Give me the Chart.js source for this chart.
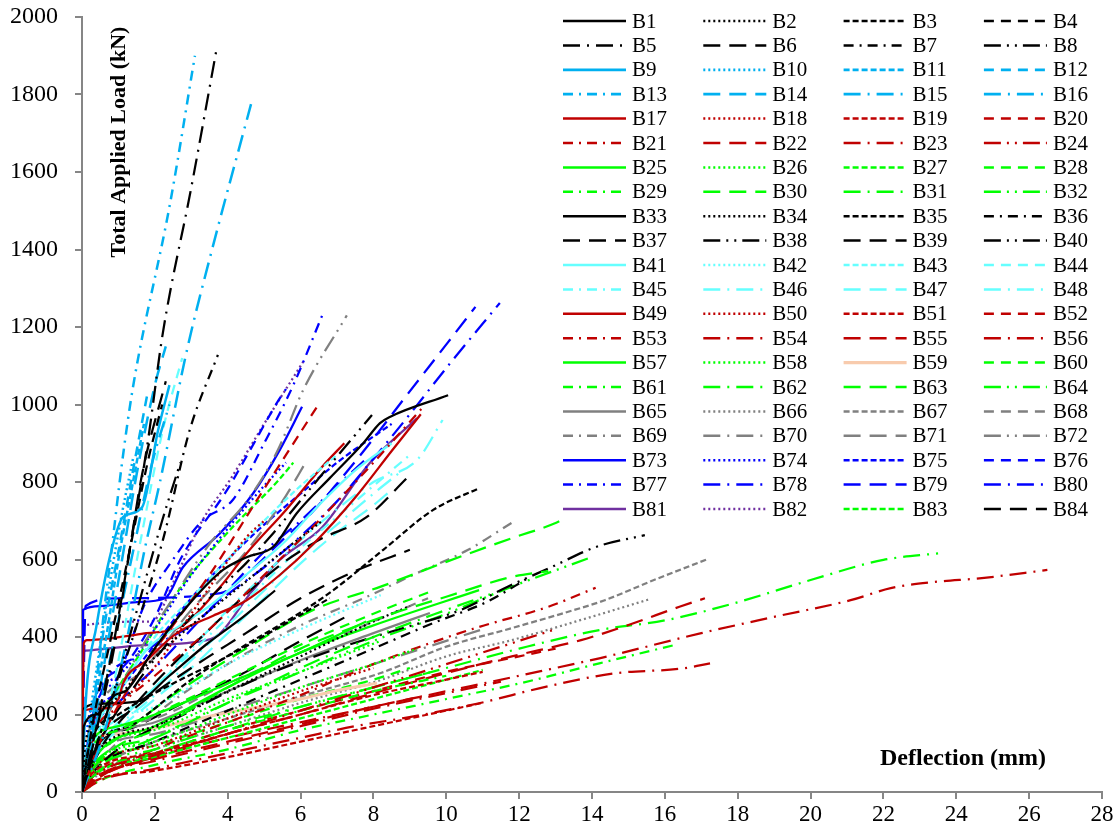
<!DOCTYPE html>
<html>
<head>
<meta charset="utf-8">
<script src="https://cdn.jsdelivr.net/npm/chart.js@4.4.0/dist/chart.umd.min.js"></script>
<style>
  html, body { margin: 0; padding: 0; background: #fff; }
  canvas { display: block; }
</style>
</head>
<body>
<canvas id="loadChart" width="1119" height="834"></canvas>
<script>
// deflection (mm), total applied load (kN)
var B1 = [[0,0],[0.05,170],[0.4,200],[0.9,250],[1.23,263],[1.96,366],[2.96,487],[3.87,573],[4.52,606],[5.25,633],[5.9,720],[6.8,810],[7.72,900],[8.18,952],[8.45,968],[10.05,1024]];
var B2 = [[0,0],[0.1,130],[0.8,230],[1.8,330],[3,430],[4.2,520],[5.5,620],[6.6,700]];
var B3 = [[0,0],[0.2,120],[1,200],[2.5,280],[4,350],[5.5,430],[6.8,500]];
var B4 = [[0,0],[0.3,180],[0.8,400],[1.3,620],[1.8,850],[2.2,1000]];
var B5 = [[0,0],[0.4,160],[0.9,380],[1.32,630],[1.8,900],[2.22,1185],[3.0,1560],[3.7,1920]];
var B6 = [[0,0],[0.4,170],[0.9,400],[1.3,620],[1.65,820],[2.3,1060]];
var B7 = [[0,0],[0.6,180],[1.4,400],[2.22,650],[2.96,935],[3.73,1128]];
var B8 = [[0,0],[0.4,120],[1.0,300],[1.6,500],[2.2,700],[2.7,850]];
var B9 = [[0,0],[0.1,230],[0.4,430],[0.8,620],[1.13,710],[1.65,735],[2.09,934],[2.4,1050]];
var B10 = [[0,0],[0.2,180],[0.5,380],[0.8,560],[1.1,720],[1.4,860]];
var B11 = [[0,0],[0.3,200],[0.7,420],[1.0,600],[1.4,800],[1.7,950]];
var B12 = [[0,0],[0.3,220],[0.6,420],[1.0,620],[1.4,830],[1.8,1030]];
var B13 = [[0,0],[0.3,180],[0.55,420],[0.82,630],[1.1,850],[1.4,1045],[2.42,1520],[3.1,1900]];
var B14 = [[0,0],[0.3,160],[0.7,380],[1.1,600],[1.5,820],[2.0,1050],[2.3,1150]];
var B15 = [[0,0],[0.4,180],[0.9,400],[1.4,620],[1.9,840],[2.4,1000]];
var B16 = [[0,0],[0.6,150],[1.2,380],[1.73,630],[2.14,800],[2.88,1140],[3.57,1400],[4.64,1775]];
var B17 = [[0,0],[0.05,210],[0.5,215],[1.0,240],[1.13,281],[1.78,340],[2.6,410],[3.6,455],[4.52,495],[5.43,560],[6.35,640],[7.5,760],[8.5,880],[9.3,975]];
var B18 = [[0,0],[0.2,150],[1,230],[2.06,330],[3,460],[4.52,658],[5.0,700]];
var B19 = [[0,0],[0.3,50],[2,100],[4,150],[6,200],[8,250],[10,290],[11,310]];
var B20 = [[0,0],[0.5,130],[1.5,300],[2.5,430],[3.5,560],[4.8,753],[5.6,870],[6.45,994]];
var B21 = [[0,0],[0.3,140],[1,220],[2,300],[3.5,420],[5,560],[6.5,700],[8,850],[9.37,994]];
var B22 = [[0,0],[0.4,40],[2,85],[4,130],[6,175],[8,220],[9.5,250]];
var B23 = [[0,0],[0.5,30],[2,60],[4,100],[6,140],[7.5,170],[9.1,195],[10.9,229],[12.75,272],[14.6,306],[16.5,319],[17.24,332]];
var B24 = [[0,0],[0.4,45],[2,95],[4,150],[6,210],[8,270],[10,330],[12,390],[13,420]];
var B25 = [[0,0],[0.2,120],[1,170],[2,200],[4,280],[6,360],[7.8,440]];
var B26 = [[0,0],[0.3,70],[2,130],[4,200],[6,270],[8,330],[9.2,370]];
var B27 = [[0,0],[0.3,40],[2,90],[4,140],[6,190],[8,240],[10,290],[11,315]];
var B28 = [[0,0],[0.2,100],[1,160],[2,200],[4,290],[6,380],[8,460],[9.5,515]];
var B29 = [[0,0],[0.4,50],[2,100],[4,160],[6,210],[8,260],[10,300]];
var B30 = [[0,0],[0.3,60],[1,120],[2,160],[4,270],[6,370],[8.2,450],[10,504],[11.8,555],[12.8,570]];
var B31 = [[0,0],[0.3,70],[2,140],[4,230],[6,320],[8,400],[10,470],[11.2,510]];
var B32 = [[0,0],[0.4,60],[2,110],[4,170],[6,220],[8,270],[9.6,310]];
var B33 = [[0,0],[0.05,215],[0.5,228],[1.5,233],[2.4,300],[3.4,380],[4.4,450],[5.3,520]];
var B34 = [[0,0],[0.3,90],[2,170],[4,260],[6,350],[8,440],[9,480]];
var B35 = [[0,0],[0.3,100],[1.5,180],[3,290],[4.5,380],[5.98,462],[6.9,521],[8.27,625],[9.64,728],[10.9,784]];
var B36 = [[0,0],[0.4,60],[2,130],[4,210],[6,290],[8,370],[9.64,436],[11.1,490],[12.3,555]];
var B37 = [[0,0],[0.4,120],[1.5,220],[3,320],[4.5,410],[6,500],[7.5,570],[9.0,625]];
var B38 = [[0,0],[0.5,130],[1.5,280],[2.5,400],[3.5,500],[4.5,590],[5.25,668],[6.62,823],[7.96,973]];
var B39 = [[0,0],[0.5,110],[1.5,230],[2.5,330],[3.5,420],[4.5,510],[5.5,590],[6.5,650],[7.82,710],[8.95,813]];
var B40 = [[0,0],[0.5,70],[3,210],[5,300],[7,370],[8.7,420],[10.4,470],[11.67,529],[12.9,581],[14.1,632],[15.45,663]];
var B41 = [[0,0],[0.3,140],[1,260],[1.8,370],[2.7,430],[3.5,480],[4.5,560],[5.5,640],[6.5,740],[7.5,830],[8.5,900]];
var B42 = [[0,0],[0.3,120],[2,220],[4,330],[6,420],[8.2,508]];
var B43 = [[0,0],[0.3,120],[1,250],[2,400],[3,500],[4,600],[5,700],[6,790],[7,870]];
var B44 = [[0,0],[0.8,250],[1.59,640],[2.22,935],[2.75,1120]];
var B45 = [[0,0],[0.3,100],[1,180],[2,270],[3,360],[4,450],[5,540],[6,630],[7,710],[8,790],[9,870]];
var B46 = [[0,0],[0.3,120],[1,190],[2,270],[3,370],[4,470],[5,560],[6,650],[7,730],[8,800],[9.2,857],[9.9,960]];
var B47 = [[0,0],[0.3,90],[1,160],[2,240],[3,320],[4,410],[5,500],[6,590],[7,670],[8,740],[8.5,780]];
var B48 = [[0,0],[0.3,100],[1,170],[2,250],[3,340],[4,430],[5,520],[6,610],[7,690],[8,770],[8.8,830]];
var B49 = [[0,0],[0.05,385],[0.14,392],[1.78,410],[2.69,426],[3.79,529],[4.52,616],[5.6,728],[6.6,840],[7.2,900]];
var B50 = [[0,0],[0.3,60],[2,120],[4,190],[6,260],[8,320]];
var B51 = [[0,0],[0.4,30],[2,55],[4,90],[6,130],[8,170],[10,210],[11,230]];
var B52 = [[0,0],[0.4,50],[2,100],[4,160],[6,210],[8,260],[10,310],[12,350],[13,370]];
var B53 = [[0,0],[0.5,40],[2,110],[4,180],[6,250],[8,330],[9.55,384],[10.9,426],[12.8,478],[14.1,527]];
var B54 = [[0,0],[0.4,40],[2,80],[4,125],[6,170],[8,215],[10,255],[11.5,285]];
var B55 = [[0,0],[0.5,40],[2,90],[4,150],[6,200],[8,255],[10,307],[11.8,350],[13.7,392],[15.0,431],[16.4,478],[17.1,500]];
var B56 = [[0,0],[0.5,40],[2,90],[4,140],[6,180],[8,220],[10,260],[12,300],[14.2,345],[17,410],[19,452],[21.1,495],[22.2,526],[23.4,542],[24.7,552],[26.5,573]];
var B57 = [[0,0],[0.3,80],[2,170],[4,270],[6,360],[8,430],[10.9,521]];
var B58 = [[0,0],[0.3,90],[2,160],[4,240],[6,310],[8.2,390]];
var B59 = [[0,0],[0.03,135],[1,150],[2,165],[3,185],[4,205],[5,222],[6,240],[7,262],[8.1,281]];
var B60 = [[0,0],[0.3,60],[2,120],[4,180],[6,240],[8,290],[9,320]];
var B61 = [[0,0],[0.5,30],[2,70],[4,110],[6,160],[8,200],[10,240],[12,280],[14.2,332],[16.3,380]];
var B62 = [[0,0],[0.5,40],[2,100],[4,160],[6,220],[8,270],[10,320],[12,370],[14.2,418],[16.06,444],[17.9,487],[20,547],[22,599],[23.5,616]];
var B63 = [[0,0],[0.3,80],[1,140],[2.5,250],[4.5,370],[6.35,470],[8.2,530],[10,594],[11.8,655],[13.0,694],[13.3,708]];
var B64 = [[0,0],[0.4,60],[2,140],[4,230],[6,310],[8,390],[10,460],[11.8,530],[13.9,603]];
var B65 = [[0,0],[0.3,100],[2,180],[4,260],[6,340],[8,410],[9.55,462]];
var B66 = [[0,0],[0.5,50],[2,110],[4,170],[6,230],[8.2,289],[10,350],[11.8,392],[13.7,444],[15.6,498]];
var B67 = [[0,0],[0.5,60],[2,130],[4,190],[6.3,255],[8.2,307],[10,375],[11.8,423],[13.2,461],[14.35,495],[15.7,547],[17.2,602]];
var B68 = [[0,0],[0.3,110],[2,190],[4,280],[6,360],[8,440],[9.5,500]];
var B69 = [[0,0],[0.5,80],[2,200],[4,330],[6,430],[7.8,503],[9.2,565],[10.6,625],[11.8,695]];
var B70 = [[0,0],[0.3,90],[2,150],[4,210],[6,270],[8,330],[10,390],[11,420]];
var B71 = [[0,0],[0.2,160],[1.5,300],[3,470],[4.5,620],[5.5,750],[6.2,860]];
var B72 = [[0,0],[0.5,150],[1.5,350],[2.5,500],[3.5,640],[4.6,760],[5.38,883],[6.07,1037],[7.27,1230]];
var B73 = [[0,0],[0.03,470],[0.5,480],[1.5,490],[2.28,500],[2.77,580],[3.79,668],[4.7,771],[5.43,883],[6.04,994]];
var B74 = [[0,0],[0.2,200],[1,300],[2,420],[3,560],[4,680],[5,790],[5.6,850]];
var B75 = [[0,0],[0.2,150],[1,260],[2,380],[3,500],[4,600],[5,690],[6,770],[7,850],[8.5,950]];
var B76 = [[0,0],[0.3,220],[1.2,330],[2.0,450],[2.7,600],[3.98,779],[4.6,880],[5.35,1004],[5.6,1040]];
var B77 = [[0,0],[0.3,200],[1.0,300],[1.7,480],[2.5,600],[3.3,700],[4.15,755],[5.0,900],[5.8,1050],[6.62,1236]];
var B78 = [[0,0],[0.5,250],[1.5,350],[3,430],[4,510],[5,580],[6,660],[7,750],[8,860],[9,975],[10.05,1100],[11.47,1262]];
var B79 = [[0,0],[0.1,480],[1.0,500],[3.8,513],[4.5,560],[5.5,650],[6.3,720],[7.08,805],[7.9,900],[8.8,1010],[10.05,1161],[10.8,1252]];
var B80 = [[0,0],[0.3,150],[1,230],[2,320],[3,420],[4,520],[5,620],[6,700],[7,790],[7.8,860]];
var B81 = [[0,0],[0.02,350],[0.1,365],[1.5,378],[3.43,392],[3.8,410],[4.6,510],[5.43,599],[6.6,684],[7.9,849],[9.2,965]];
var B82 = [[0,0],[0.05,430],[1.9,440],[2.6,560],[3.3,700],[4.06,805],[5.0,950],[6.07,1110]];
var B83 = [[0,0],[0.3,150],[1,270],[1.6,358],[2.6,513],[3.98,668],[5.4,805],[5.8,850]];
var B84 = [[0,0],[0.3,100],[1.5,170],[3,240],[4.5,310],[6,390],[7.2,450]];

var curves = [B1,B2,B3,B4,B5,B6,B7,B8,B9,B10,B11,B12,B13,B14,B15,B16,B17,B18,B19,B20,B21,B22,B23,B24,
  B25,B26,B27,B28,B29,B30,B31,B32,B33,B34,B35,B36,B37,B38,B39,B40,B41,B42,B43,B44,B45,B46,B47,B48,
  B49,B50,B51,B52,B53,B54,B55,B56,B57,B58,B59,B60,B61,B62,B63,B64,B65,B66,B67,B68,B69,B70,B71,B72,
  B73,B74,B75,B76,B77,B78,B79,B80,B81,B82,B83,B84];

var xTicks = [0,2,4,6,8,10,12,14,16,18,20,22,24,26,28];
var yTicks = [0,200,400,600,800,1000,1200,1400,1600,1800,2000];

// line colour per block of 8 beams
var groupColors = ['#000000','#00B0F0','#C00000','#00FF00','#000000','#66FFFF','#C00000','#00FF00','#808080','#0000FF'];
var lastColors = ['#7030A0','#7030A0','#00FF00','#000000'];

// dash style per beam (S solid, D dot, SD short dash, DA dash, DD dash dot, LD long dash, LDD long dash dot, L3 long dash dot dot)
var lineStyles = [
  'S','D','SD','DA','LDD','LD','DD','L3',
  'S','D','SD','DA','DD','LD','LDD','LDD',
  'S','D','SD','DA','DD','LD','LDD','L3',
  'S','D','SD','DA','DD','LD','LDD','L3',
  'S','D','SD','DD','LD','L3','LD','L3',
  'S','D','SD','DA','DD','LDD','LD','LDD',
  'S','D','SD','DA','DD','LDD','LD','LDD',
  'S','D','S','DA','DD','LDD','LD','L3',
  'S','D','SD','DA','DD','LDD','LD','L3',
  'S','D','SD','DA','DD','LDD','LD','LDD',
  'S','D','SD','LD'
];

var dashes = {
  S: [], D: [2,3], SD: [6,3], DA: [10,7], DD: [10,6,2,6],
  LD: [17,9], LDD: [17,7,2,7], L3: [17,6,2,6,2,6]
};

var serif = "'Liberation Serif', 'Times New Roman', serif";

var datasets = [];
for (var i = 0; i < curves.length; i++) {
  var color = i < 80 ? groupColors[Math.floor(i / 8)] : lastColors[i - 80];
  var width = 2.25;
  if (i == 58) { color = '#F8CBAD'; width = 3; }
  if (color == '#00B0F0') width = 2.5;
  datasets.push({
    label: 'B' + (i + 1),
    data: curves[i].map(function(p){ return {x: p[0], y: p[1]}; }),
    borderColor: color,
    backgroundColor: color,
    borderWidth: width,
    borderDash: dashes[lineStyles[i]],
    pointRadius: 0,
    fill: false,
    cubicInterpolationMode: 'monotone'
  });
}

// legend grid + axis titles inside the plot area
var gridLegend = {
  id: 'gridLegend',
  afterDatasetsDraw: function(chart) {
    var ctx = chart.ctx;
    var area = chart.chartArea;
    ctx.save();
    var left = area.right - 539;
    ctx.fillStyle = '#fff';
    ctx.fillRect(left - 8, area.top - 9, 555, 512);
    ctx.font = '21px ' + serif;
    ctx.textBaseline = 'middle';
    ctx.textAlign = 'left';
    chart.data.datasets.forEach(function(ds, k) {
      var x = left + (k % 4) * 140.3;
      var y = area.top + 4 + Math.floor(k / 4) * 24.4;
      ctx.strokeStyle = ds.borderColor;
      ctx.lineWidth = ds.borderWidth + 0.25;
      ctx.setLineDash(ds.borderDash);
      ctx.beginPath();
      ctx.moveTo(x, y);
      ctx.lineTo(x + 63, y);
      ctx.stroke();
      ctx.setLineDash([]);
      ctx.fillStyle = '#000';
      ctx.fillText(ds.label, x + 69, y + 1);
    });

    ctx.fillStyle = '#000';
    ctx.textAlign = 'center';
    ctx.font = 'bold 24px ' + serif;
    ctx.fillText('Deflection (mm)', area.right - 139, area.bottom - 33);
    ctx.font = 'bold 22px ' + serif;
    ctx.translate(area.left + 37, area.top + 125);
    ctx.rotate(-Math.PI / 2);
    ctx.fillText('Total Applied Load (kN)', 0, 0);
    ctx.restore();
  }
};

var axisGray = '#868686';

new Chart(document.getElementById('loadChart'), {
  type: 'line',
  data: { datasets: datasets },
  options: {
    responsive: false,
    animation: false,
    layout: { padding: { left: 0, right: 17, top: 17, bottom: 0 } },
    plugins: { legend: { display: false }, tooltip: { enabled: false } },
    scales: {
      x: {
        type: 'linear', min: 0, max: 28,
        afterBuildTicks: function(s){ s.ticks = xTicks.map(function(v){ return {value: v}; }); },
        ticks: { color: '#000', font: { family: serif, size: 23 }, padding: 2, maxRotation: 0, autoSkip: false,
                 callback: function(v){ return String(v); } },
        grid: { drawOnChartArea: false, color: axisGray, lineWidth: 2, tickLength: 7 },
        border: { color: axisGray, width: 2 },
        afterFit: function(s){ s.height = 42; s.paddingLeft = 0; s.paddingRight = 0; }
      },
      y: {
        type: 'linear', min: 0, max: 2000,
        afterBuildTicks: function(s){ s.ticks = yTicks.map(function(v){ return {value: v}; }); },
        ticks: { color: '#000', font: { family: serif, size: 24 }, padding: 17, autoSkip: false,
                 callback: function(v){ return String(v); } },
        grid: { drawOnChartArea: false, color: axisGray, lineWidth: 2, tickLength: 7 },
        border: { color: axisGray, width: 2 },
        afterFit: function(s){ s.width = 82; s.paddingTop = 0; s.paddingBottom = 0; }
      }
    }
  },
  plugins: [gridLegend]
});
</script>
</body>
</html>
